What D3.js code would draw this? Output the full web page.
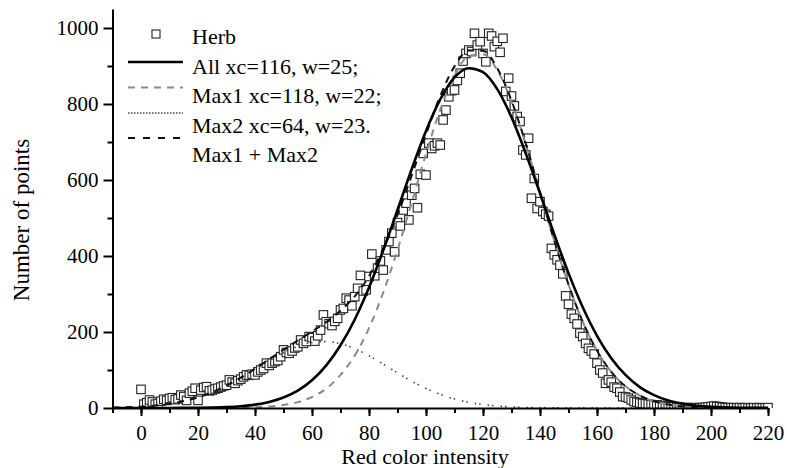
<!DOCTYPE html>
<html>
<head>
  <meta charset="UTF-8">
  <title>Herb - red color intensity</title>
  <style>
    body { margin: 0; background: #fff; }
    svg { display: block; font-family: "Liberation Serif", serif; }
    .axis path, .axis line { stroke: #000; stroke-width: 2; }
    .axis text { font-size: 21px; fill: #000; font-family: "Liberation Serif", serif; }
  </style>
</head>
<body>
  <svg width="787" height="468"></svg>

  <script src="https://d3js.org/d3.v7.min.js"></script>
  <script>
    // Herb counts, one value per red intensity starting at 0
    const herbStart = 0;
    const herb = [
      49, 10, 14, 21, 16, 10, 12, 18, 23, 20, 25, 27, 22, 24, 34, 30, 20, 39, 44, 52,
      20, 47, 54, 56, 45, 47, 50, 52, 55, 58, 60, 74, 68, 65, 72, 76, 82, 87, 86, 89,
      87, 95, 100, 104, 118, 112, 118, 122, 125, 135, 153, 146, 144, 150, 158, 161, 179, 170, 175, 188,
      185, 176, 190, 205, 245, 227, 222, 217, 228, 236, 258, 262, 289, 284, 269, 293, 315, 349, 308, 311,
      346, 405, 348, 368, 387, 363, 416, 438, 460, 411, 488, 479, 521, 539, 495, 560, 578, 527, 615, 670,
      613, 697, 683, 690, 697, 692, 758, 784, 819, 835, 837, 862, 881, 913, 933, 942, 938, 986, 955, 964,
      933, 911, 986, 979, 951, 965, 936, 973, 833, 868, 821, 795, 767, 754, 679, 666, 710, 552, 604, 525,
      543, 517, 510, 505, 420, 403, 390, 376, 353, 295, 273, 247, 236, 221, 197, 188, 170, 157, 150, 142,
      118, 100, 92, 65, 74, 68, 55, 52, 42, 30, 29, 26, 21, 17, 15, 13, 12, 11, 10, 9,
      8, 8, 7, 5, 5, 4, 3, 3, 2, 2, 1, 1, 1, 0, 1, 0, 1, 1, 2, 3,
      4, 5, 4, 3, 2, 1, 1, 0, 1, 0, 1, 0, 1, 0, 0, 1, 0, 1, 0, 0,
      1
    ];

    const fitX = [-10, -5, 0, 5, 10, 15, 20, 25, 30, 35, 40, 45, 50, 55, 60, 65, 70, 75, 80, 85,
      90, 95, 100, 105, 110, 115, 120, 125, 130, 135, 140, 145, 150, 155, 160, 165, 170, 175, 180, 185,
      190, 195, 200, 205, 210, 215, 220];
    const fitAll = [0, 0, 0, 0.1, 0.1, 0.3, 0.6, 1.2, 2.4, 4.7, 8.8, 16, 27.5, 45.6, 72.8, 112, 165, 233, 317, 415,
      521, 629, 729, 812, 870, 894, 884, 839, 765, 670, 565, 457, 355, 265, 190, 131, 87, 55, 34, 20,
      11, 6, 3.2, 1.6, 0.8, 0.4, 0.2];
    const fitMax1 = [0, 0, 0, 0, 0, 0, 0, 0.1, 0.3, 0.8, 1.7, 3.8, 7.9, 15.5, 29, 51, 87, 138, 210, 304,
      416, 541, 669, 785, 875, 926, 931, 889, 806, 694, 567, 440, 325, 227, 151, 95, 57, 33, 17.6, 9,
      4.4, 2, 0.9, 0.4, 0.15, 0.05, 0];
    const fitMax2 = [1, 1.9, 3.6, 6.5, 11.1, 18.1, 28.1, 41.6, 58.7, 79, 101.5, 124.4, 145.4, 162.1, 172.4, 174.8, 169.1, 156.1, 137.4, 115.4,
      92.4, 70.6, 51.4, 35.7, 23.7, 15, 9, 5.2, 2.9, 1.5, 0.7, 0.35, 0.15, 0.1, 0, 0, 0, 0, 0, 0,
      0, 0, 0, 0, 0, 0, 0];
    const fitSum = [1, 1.9, 3.6, 6.5, 11.1, 18.1, 28.1, 41.7, 59, 79.8, 103.2, 128.2, 153.3, 177.6, 201.4, 226, 256, 294, 347, 419,
      508, 612, 720, 821, 899, 941, 940, 894, 809, 696, 568, 440, 325, 227, 151, 95, 57, 33, 17.6, 9,
      4.4, 2, 0.9, 0.4, 0.15, 0.05, 0];

    const xTicks = [0, 20, 40, 60, 80, 100, 120, 140, 160, 180, 200, 220];
    const yTicks = [0, 200, 400, 600, 800, 1000];
    const legendLabels = ["Herb", "All xc=116, w=25;", "Max1 xc=118, w=22;", "Max2 xc=64, w=23.", "Max1 + Max2"];

    const svg = d3.select("svg");

    const x = d3.scaleLinear().domain([-10, 220]).range([112.5, 768]);
    const y = d3.scaleLinear().domain([0, 1050]).range([408, 9]);

    svg.append("clipPath").attr("id", "plot")
      .append("rect")
      .attr("x", 112).attr("y", 0)
      .attr("width", 670).attr("height", 408);

    const plot = svg.append("g").attr("clip-path", "url(#plot)");

    // data squares
    const sq = 8.5;
    plot.selectAll("rect.pt")
      .data(herb)
      .join("rect")
      .attr("class", "pt")
      .attr("x", (d, i) => x(herbStart + i) - sq / 2)
      .attr("y", d => y(d) - sq / 2)
      .attr("width", sq)
      .attr("height", sq)
      .attr("fill", "#fff")
      .attr("stroke", "#222")
      .attr("stroke-width", 1.1);

    const line = d3.line()
      .x((d, i) => x(fitX[i]))
      .y(d => y(d))
      .curve(d3.curveMonotoneX);

    const curves = [
      { v: fitMax2, color: "#444", width: 1.6, dash: "1.5,3,1.5,7" },
      { v: fitMax1, color: "#8a8a8a", width: 2, dash: "7,6" },
      { v: fitSum, color: "#111", width: 2, dash: "7,6" },
      { v: fitAll, color: "#000", width: 2.6, dash: null }
    ];

    curves.forEach(c => {
      plot.append("path")
        .attr("d", line(c.v))
        .attr("fill", "none")
        .attr("stroke", c.color)
        .attr("stroke-width", c.width)
        .attr("stroke-dasharray", c.dash);
    });

    // axes
    const xMinor = svg.append("g").attr("class", "axis")
      .attr("transform", "translate(0,408)")
      .call(d3.axisBottom(x).tickValues(d3.range(-10, 221, 10)).tickSize(5).tickSizeOuter(0).tickFormat(""));
    xMinor.select(".domain").remove();

    svg.append("g").attr("class", "axis")
      .attr("transform", "translate(0,408)")
      .call(d3.axisBottom(x).tickValues(xTicks).tickSize(8).tickSizeOuter(0).tickPadding(9).tickFormat(d3.format("d")));

    const yMinor = svg.append("g").attr("class", "axis")
      .attr("transform", "translate(112.5,0)")
      .call(d3.axisLeft(y).tickValues(d3.range(100, 1001, 200)).tickSize(5).tickSizeOuter(0).tickFormat(""));
    yMinor.select(".domain").remove();

    svg.append("g").attr("class", "axis")
      .attr("transform", "translate(112.5,0)")
      .call(d3.axisLeft(y).tickValues(yTicks).tickSize(9).tickSizeOuter(0).tickPadding(5).tickFormat(d3.format("d")));

    // axis titles
    svg.append("text")
      .attr("x", 425).attr("y", 464)
      .attr("text-anchor", "middle")
      .attr("font-size", 22)
      .text("Red color intensity");

    svg.append("text")
      .attr("transform", "translate(29,220) rotate(-90)")
      .attr("text-anchor", "middle")
      .attr("font-size", 23)
      .text("Number of points");

    // legend
    const legend = svg.append("g").attr("font-size", 22);
    legend.append("rect")
      .attr("x", 152).attr("y", 30).attr("width", 8).attr("height", 8)
      .attr("fill", "#fff").attr("stroke", "#222").attr("stroke-width", 1.1);

    const legendLines = [
      { y: 62, color: "#000", width: 2.6, dash: null },
      { y: 87.5, color: "#8a8a8a", width: 2, dash: "7,6" },
      { y: 113, color: "#444", width: 1.4, dash: "1.5,1.5" },
      { y: 138, color: "#111", width: 2, dash: "7,8" }
    ];
    legendLines.forEach(l => {
      legend.append("line")
        .attr("x1", 128).attr("x2", 183)
        .attr("y1", l.y).attr("y2", l.y)
        .attr("stroke", l.color)
        .attr("stroke-width", l.width)
        .attr("stroke-dasharray", l.dash);
    });

    legend.selectAll("text")
      .data(legendLabels)
      .join("text")
      .attr("x", 192)
      .attr("y", (d, i) => 44 + i * 29.6)
      .text(d => d);
  </script>
</body>
</html>
